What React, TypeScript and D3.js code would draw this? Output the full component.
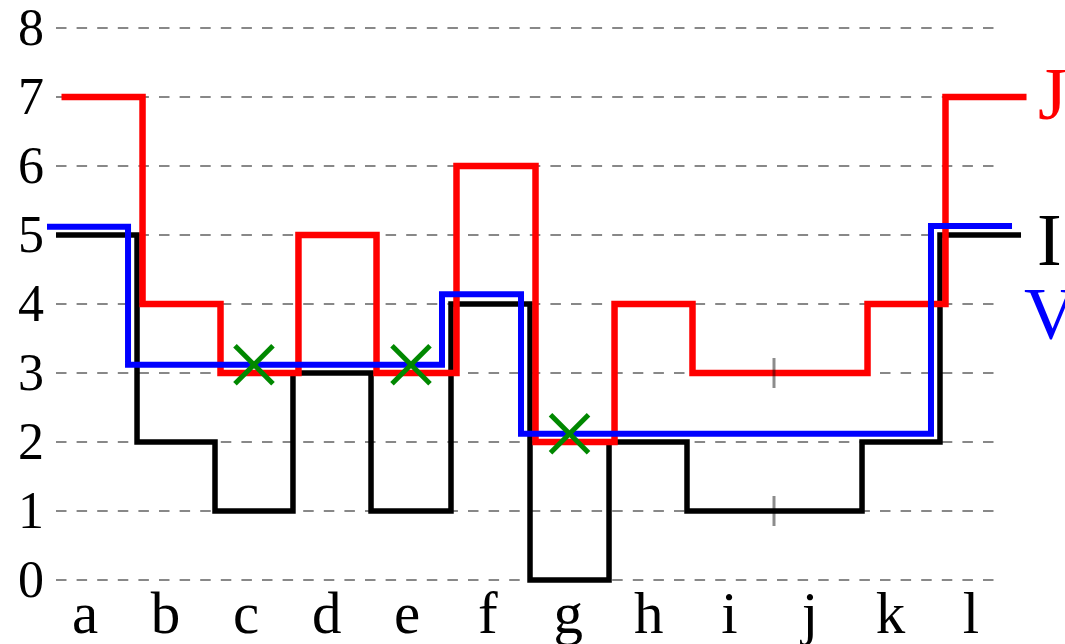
import * as d3 from 'd3';

// categories along x and the step edges between them (in category-index units)
const categories = ['a', 'b', 'c', 'd', 'e', 'f', 'g', 'h', 'i', 'j', 'k', 'l'];
const stepEdges = [-0.36, 0.646, 1.614, 2.582, 3.551, 4.544, 5.525, 6.506, 7.474, 8.579, 9.647, 10.615, 11.621];

const valuesI = [5, 2, 1, 3, 1, 4, 0, 2, 1, 1, 2, 5];
const valuesJ = [7, 4, 3, 5, 3, 6, 2, 4, 3, 3, 4, 7];
const valuesV = [5.12, 3.12, 3.12, 3.12, 3.12, 4.14, 2.12, 2.12, 2.12, 2.12, 2.12, 5.13];

const markerCategories = ['c', 'e', 'g'];
const breakEdge = 9; // edge between i and j, marked with a small tick
const yTicks = [0, 1, 2, 3, 4, 5, 6, 7, 8];

const W = 1065;
const H = 644;
const serif = '"Liberation Serif", "DejaVu Serif", serif';

const x = d3.scaleLinear().domain([0, 11]).range([85, 971]);
const y = d3.scaleLinear().domain([0, 8]).range([580, 28]);

type Pt = [number, number];

const stepPoints = (vals: number[]): Pt[] => {
  const pts: Pt[] = [];
  vals.forEach((v, i) => {
    pts.push([stepEdges[i], v]);
    pts.push([stepEdges[i + 1], v]);
  });
  return pts;
};

const stepPath = (vals: number[], dx: number) =>
  d3
    .line<Pt>()
    .x((d) => x(d[0]) + dx)
    .y((d) => y(d[1]))(stepPoints(vals)) ?? '';

const series = [
  { name: 'I', values: valuesI, color: '#000000', width: 5.5, dx: 0 },
  { name: 'J', values: valuesJ, color: '#ff0000', width: 6.5, dx: 5.5 },
  { name: 'V', values: valuesV, color: '#0000ff', width: 6, dx: -9 },
];

export default function App() {
  const gridX0 = 56;
  const gridX1 = 1000;

  return (
    <svg
      width={W}
      height={H}
      style={{ position: 'absolute', left: 0, top: 0, background: '#fff' }}
    >
      {/* dashed horizontal grid */}
      {yTicks.map((t) => (
        <line
          key={`g${t}`}
          x1={gridX0}
          x2={gridX1}
          y1={y(t)}
          y2={y(t)}
          stroke="#888"
          strokeWidth={2}
          strokeDasharray="10.5,10.1"
        />
      ))}

      {/* y tick labels */}
      {yTicks.map((t) => (
        <text
          key={`yt${t}`}
          x={44}
          y={y(t) + 17}
          textAnchor="end"
          fontFamily={serif}
          fontSize={52}
          fill="#000"
        >
          {t}
        </text>
      ))}

      {/* x tick labels */}
      {categories.map((c, i) => (
        <text
          key={`xt${c}`}
          x={x(i)}
          y={633}
          textAnchor="middle"
          fontFamily={serif}
          fontSize={59}
          fill="#000"
        >
          {c}
        </text>
      ))}

      {/* step lines */}
      {series.map((s) => (
        <path
          key={s.name}
          d={stepPath(s.values, s.dx)}
          fill="none"
          stroke={s.color}
          strokeWidth={s.width}
          strokeLinejoin="miter"
          strokeLinecap="butt"
        />
      ))}

      {/* break ticks between i and j */}
      {[valuesI, valuesJ].map((vals, k) => (
        <line
          key={`bt${k}`}
          x1={x(stepEdges[breakEdge]) - 2}
          x2={x(stepEdges[breakEdge]) - 2}
          y1={y(vals[breakEdge - 1]) - 15}
          y2={y(vals[breakEdge - 1]) + 15}
          stroke="#000"
          strokeOpacity={0.45}
          strokeWidth={3}
        />
      ))}

      {/* green crosses */}
      {markerCategories.map((c) => {
        const i = categories.indexOf(c);
        const cx = x((stepEdges[i] + stepEdges[i + 1]) / 2);
        const cy = y(valuesV[i]);
        const r = 19;
        return (
          <g key={`m${c}`} stroke="#008800" strokeWidth={5}>
            <line x1={cx - r} y1={cy - r} x2={cx + r} y2={cy + r} />
            <line x1={cx - r} y1={cy + r} x2={cx + r} y2={cy - r} />
          </g>
        );
      })}

      {/* series names at the right */}
      <text x={1038} y={y(valuesJ[11]) + 22} fontFamily={serif} fontSize={74} fill="#ff0000">
        J
      </text>
      <text x={1037} y={y(valuesI[11]) + 30} fontFamily={serif} fontSize={74} fill="#000">
        I
      </text>
      <text x={1024} y={y(valuesI[11]) + 104} fontFamily={serif} fontSize={74} fill="#0000ff">
        V
      </text>
    </svg>
  );
}
